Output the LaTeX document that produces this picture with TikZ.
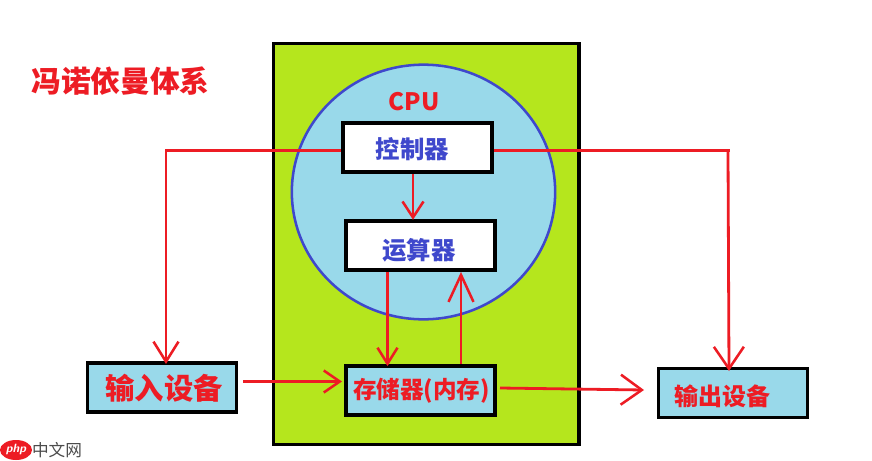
\documentclass[tikz,border=0pt]{standalone}
\usepackage{fontspec}
\usetikzlibrary{arrows.meta,shapes.geometric}
\newfontfamily\cjk{Noto Sans CJK SC}
\definecolor{lime}{RGB}{181,230,29}
\definecolor{sky}{RGB}{153,217,234}
\definecolor{redink}{RGB}{237,28,36}
\definecolor{blueink}{RGB}{63,72,204}
\newcommand{\fpx}[1]{\fontsize{#1}{#1}\cjk\bfseries}
\tikzset{
  x=0.75pt,y=-0.75pt,
  box/.style={draw=black,line width=2.6pt,minimum width=111.5pt,minimum height=37pt,inner sep=0pt},
  bluebox/.style={box,fill=sky},
  whitebox/.style={box,fill=white},
  redlabel/.style={text=redink,inner sep=0pt},
  bluelabel/.style={text=blueink,inner sep=0pt},
  wire/.style={draw=redink,line width=2.1pt},
  arr/.style n args={2}{wire,-{Straight Barb[length=#1*0.75pt,width=#2*0.75pt,line width=1.9pt]}},
}
\begin{document}
\begin{tikzpicture}
\useasboundingbox (0,0) rectangle (872,461);
\fill[white] (0,0) rectangle (872,461);
\node[draw=black,fill=lime,line width=2.6pt,minimum width=229pt,minimum height=300.5pt,inner sep=0pt] (frame) at (426.3,244) {};
\node[draw=blueink,fill=sky,line width=1.9pt,ellipse,minimum width=197.5pt,minimum height=191pt,inner sep=0pt] (cpu) at (423.5,192) {};
\node[whitebox] (ctrl) at (417.5,147.5) {};
\node[whitebox] (alu) at (420.5,245.5) {};
\node[bluebox] (mem) at (420.5,390.5) {};
\node[bluebox] (in) at (162,387.5) {};
\node[bluebox] (out) at (733,393) {};
\node[redlabel] (title) at (120.5,81) {\fpx{22.3pt}冯诺依曼体系};
\node[redlabel] (cpulabel) at (414,102) {\fontsize{18pt}{18pt}\cjk\bfseries CPU};
\node[bluelabel] (ctrltext) at (412.5,149) {\fpx{18.3pt}控制器};
\node[bluelabel] (alutext) at (419,250) {\fpx{18.3pt}运算器};
\node[redlabel] (memtext) at (421.5,391) {\fpx{17.7pt}存储器(内存)};
\node[redlabel] (intext) at (164,388) {\fpx{22pt}输入设备};
\node[redlabel] (outtext) at (722,396) {\fpx{18pt}输出设备};
% logo
\node[fill=redink,ellipse,minimum width=24pt,minimum height=15pt,inner sep=0pt] (logo) at (16,450) {};
\node[text=white,inner sep=0pt] (logophp) at (16,449.5) {\fontsize{9pt}{9pt}\selectfont\sffamily\bfseries\itshape php};
\node[text=black!70,inner sep=0pt] (logocn) at (57,450) {\fontsize{12.5pt}{12.5pt}\cjk 中文网};
% connectors
\coordinate (inturn) at (166,150.5);
\coordinate (intip) at (166,364);
\coordinate (outturn) at (728,150.5);
\coordinate (outtop) at (730,150.5);
\coordinate (outtip) at (729,371);
\coordinate (cd) at (413,198);
\coordinate (ad) at (387.5,300);
\coordinate (au) at (461,300);
\coordinate (inr) at (243,381.5);
\coordinate (memtip) at (342,381.5);
\coordinate (memr) at (500,388);
\coordinate (outl) at (644,390);
\draw[arr={20}{25}] (ctrl.west |- inturn) -- (inturn) -- (intip);
\draw[wire] (ctrl.east |- outtop) -- (outtop);
\draw[arr={22}{30}] (outturn) -- (outtip);
\draw[arr={16}{21}] (cd |- ctrl.south) -- ([yshift=-0.5pt]cd |- alu.north);
\draw[arr={16}{20}] (ad |- alu.south) -- ([yshift=-1.5pt]ad |- mem.north);
\draw[arr={27}{25}] (au |- mem.north) -- (au |- alu.south);
\draw[arr={16}{22}] (inr) -- (memtip);
\draw[arr={21}{30}] (memr) -- (outl);
\end{tikzpicture}
\end{document}
